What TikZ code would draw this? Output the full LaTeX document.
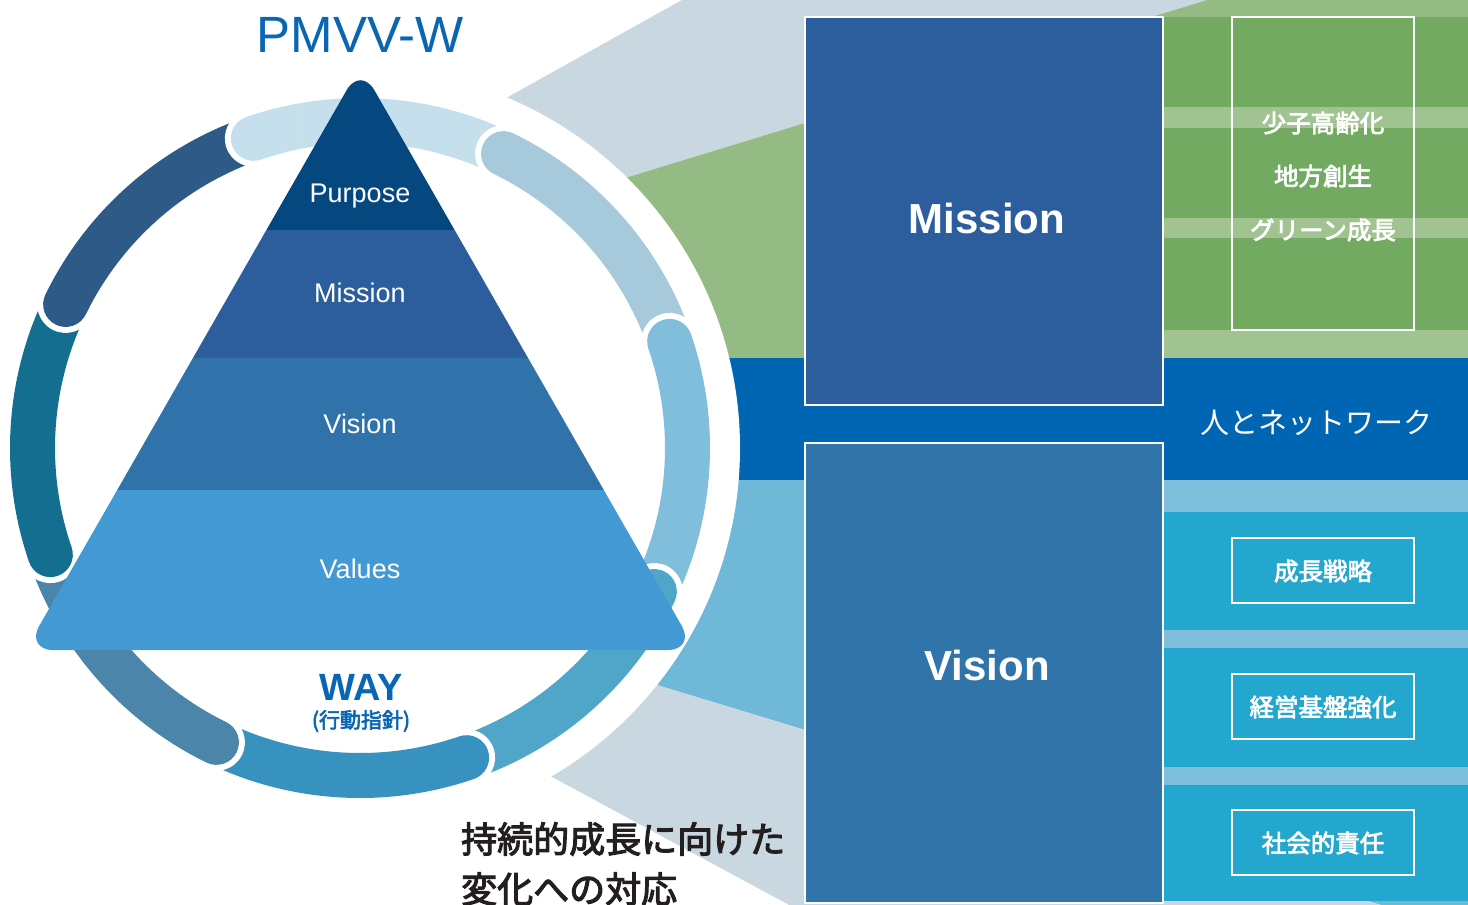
\documentclass[tikz,border=0pt]{standalone}
\usepackage{fontspec}
\setmainfont{Liberation Sans}
\newfontfamily\jpfont{Noto Sans CJK JP}
\newfontfamily\jpsemi[FakeBold=3]{Noto Sans CJK JP}
\newcommand\pxsize[1]{\fontsize{#1}{#1}\selectfont}

\definecolor{titleblue}{HTML}{0A66B2}
\definecolor{wedgegray}{HTML}{C9D7E0}
\definecolor{wedgegreen}{HTML}{95BB85}
\definecolor{greenlt}{HTML}{A0C391}
\definecolor{greendk}{HTML}{72AA61}
\definecolor{bandblue}{HTML}{0066B3}
\definecolor{wedgelblue}{HTML}{6FB8D8}
\definecolor{tealstripe}{HTML}{7EBFDB}
\definecolor{tealdk}{HTML}{23A7CE}
\definecolor{missionbox}{HTML}{2C5E9E}
\definecolor{visionbox}{HTML}{3074AA}
\definecolor{tierpurpose}{HTML}{05477F}
\definecolor{tiermission}{HTML}{2C5D9C}
\definecolor{tiervision}{HTML}{3073AA}
\definecolor{tiervalues}{HTML}{4399D3}
\definecolor{segtop}{HTML}{C5E0EC}
\definecolor{segur}{HTML}{A6CADC}
\definecolor{segr}{HTML}{80BEDB}
\definecolor{seglr}{HTML}{50A6C8}
\definecolor{segb}{HTML}{3792BF}
\definecolor{segll}{HTML}{4B85A9}
\definecolor{segl}{HTML}{136E8F}
\definecolor{segul}{HTML}{2E5A87}
\definecolor{darktext}{HTML}{231F20}

\tikzset{
  ringgap/.style={white, line width=57pt, line cap=round},
  ringseg/.style={line width=45pt, line cap=round},
  whitebox/.style={draw=white, line width=1.5pt},
  tierlbl/.style={inner sep=0pt, anchor=base, text=white, font=\pxsize{27}},
  biglbl/.style={inner sep=0pt, anchor=base, text=white, font=\pxsize{42}\bfseries},
  jplbl/.style={inner sep=0pt, text=white, font=\jpsemi\pxsize{24.5}},
}

\begin{document}
\begin{tikzpicture}[x=1pt, y=-1pt]
\useasboundingbox (0,0) rectangle (1468,905);
\clip (0,0) rectangle (1468,905);
\fill[white] (0,0) rectangle (1468,905);

% fans behind the circle
\fill[wedgegray] (450,129.3) -- (682,0) -- (1207,0) -- (500,216.3) -- cycle;
\fill[wedgegreen] (500,216.3) -- (1207,0) -- (1468,0) -- (1468,358) -- (600,358) -- cycle;
\fill[bandblue] (600,358) rectangle (1468,480);
\fill[wedgelblue] (600,480) -- (1468,480) -- (1468,931.6) -- (600,667.7) -- cycle;
\fill[wedgegray] (480,738) -- (600,667.7) -- (1500,941) -- (1500,1000) -- (965,1000) -- cycle;

% right columns
\fill[greenlt] (1163,17) rectangle (1468,358);
\foreach \a/\b in {17/107,128/218,238/330}
  \fill[greendk] (1163,\a) rectangle (1468,\b);
\fill[tealstripe] (1163,480) rectangle (1468,901);
\foreach \a/\b in {512/630,648/767,785/901}
  \fill[tealdk] (1163,\a) rectangle (1468,\b);

\draw[whitebox, fill=missionbox] (805,17) rectangle (1163,405);
\draw[whitebox, fill=visionbox] (805,443) rectangle (1163,903);
\draw[whitebox] (1232,17) rectangle (1414,330);
\draw[whitebox] (1232,538) rectangle (1414,603);
\draw[whitebox] (1232,674) rectangle (1414,739);
\draw[whitebox] (1232,810) rectangle (1414,875);

% circle
\fill[white] (360,448) circle[radius=380];
\foreach \col [count=\k from 0] in {segtop,segur,segr,seglr,segb,segll,segl,segul}{
  \pgfmathsetmacro\sa{-109+45*\k}
  \pgfmathsetmacro\ea{\sa+45}
  \draw[ringgap] (360,448) ++(\sa:327.5) arc[start angle=\sa, end angle=\ea, radius=327.5];
  \draw[ringseg, \col] (360,448) ++(\sa:327.5) arc[start angle=\sa, end angle=\ea, radius=327.5];
}
\begin{scope}
  \clip (150,60) rectangle (300,240);
  \draw[ringgap] (360,448) ++(-109:327.5) arc[start angle=-109, end angle=-64, radius=327.5];
  \draw[ringseg, segtop] (360,448) ++(-109:327.5) arc[start angle=-109, end angle=-64, radius=327.5];
\end{scope}

% pyramid
\begin{scope}
  \clip[rounded corners=28pt] (360.5,66) -- (25.4,650) -- (695.6,650) -- cycle;
  \fill[tierpurpose] (0,0) rectangle (720,230);
  \fill[tiermission] (0,230) rectangle (720,358);
  \fill[tiervision] (0,358) rectangle (720,490);
  \fill[tiervalues] (0,490) rectangle (720,660);
\end{scope}

\node[tierlbl] (purpose) at (360,202) {Purpose};
\node[tierlbl] (mission) at (360,302) {Mission};
\node[tierlbl] (vision) at (360,433) {Vision};
\node[tierlbl] (values) at (360,578) {Values};

\node[inner sep=0pt, anchor=base, text=titleblue, font=\pxsize{51}] (title) at (360,52) {PMVV-W};
\node[inner sep=0pt, anchor=base, text=titleblue, font=\pxsize{38}\bfseries] (way) at (361,700) {WAY};
\node[inner sep=0pt, text=titleblue, font=\jpsemi\pxsize{21}] (waysub) at (361,721) {(行動指針)};

\node[biglbl] (missionlbl) at (987,233) {Mission};
\node[biglbl] (visionlbl) at (987,680) {Vision};

\node[jplbl] (shoushi) at (1323,123) {少子高齢化};
\node[jplbl] (chihou) at (1323,176) {地方創生};
\node[jplbl] (green) at (1323,230) {グリーン成長};
\node[jplbl] (seichou) at (1323,571) {成長戦略};
\node[jplbl] (keiei) at (1323,707) {経営基盤強化};
\node[jplbl] (shakai) at (1323,843) {社会的責任};
\node[inner sep=0pt, text=white, font=\jpfont\pxsize{29}] (network) at (1316,423) {人とネットワーク};

\node[inner sep=0pt, anchor=west, text=darktext, font=\jpsemi\pxsize{36}] (change1) at (461,839) {持続的成長に向けた};
\node[inner sep=0pt, anchor=west, text=darktext, font=\jpsemi\pxsize{36}] (change2) at (461,889) {変化への対応};
\end{tikzpicture}
\end{document}
